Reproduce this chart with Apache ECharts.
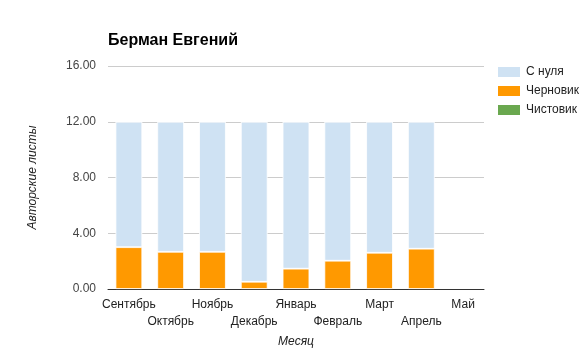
<!DOCTYPE html>
<html lang="ru">
<head>
<meta charset="UTF-8">
<title>Берман Евгений</title>
<script src="https://cdn.jsdelivr.net/npm/echarts@6/dist/echarts.min.js"></script>
<style>
  html, body { margin: 0; padding: 0; background: #fff; }
  #chart { width: 583px; height: 352px; }
</style>
</head>
<body>
<div id="chart"></div>
<script>
  var months = ['Сентябрь', 'Октябрь', 'Ноябрь', 'Декабрь', 'Январь', 'Февраль', 'Март', 'Апрель', 'Май'];
  var fromScratch = [9.0, 9.33, 9.33, 11.48, 10.54, 9.97, 9.4, 9.11, null];
  var draft = [3.0, 2.67, 2.67, 0.52, 1.46, 2.03, 2.6, 2.89, null];
  var clean = [0, 0, 0, 0, 0, 0, 0, 0, null];
  var seriesNames = ['С нуля', 'Черновик', 'Чистовик'];
  var colors = ['#cfe2f3', '#ff9900', '#6aa84f'];

  var font = 'Arial, "Liberation Sans", sans-serif';

  function bar(name, data, color, order) {
    return {
      name: name,
      type: 'bar',
      stack: 'total',
      barWidth: '64%',
      data: data,
      z: order,
      itemStyle: { color: color, borderColor: '#fff', borderWidth: 0.8 }
    };
  }

  var chart = echarts.init(document.getElementById('chart'));
  chart.setOption({
    animation: false,
    textStyle: { fontFamily: font },
    title: {
      text: 'Берман Евгений',
      left: 103,
      top: 28,
      textStyle: { fontSize: 16, fontWeight: 'bold', color: '#000', fontFamily: font }
    },
    legend: {
      orient: 'vertical',
      left: 496,
      top: 65,
      padding: 0,
      itemWidth: 24,
      itemHeight: 12,
      itemGap: 5,
      icon: 'rect',
      data: seriesNames,
      textStyle: { fontSize: 12, color: '#222', fontFamily: font, lineHeight: 14, padding: [0, 0, 0, 0] }
    },
    grid: { left: 108, right: 99, top: 66, bottom: 63, outerBoundsMode: 'none' },
    xAxis: {
      type: 'category',
      data: months,
      name: 'Месяц',
      nameLocation: 'middle',
      nameGap: 47,
      nameTextStyle: { fontStyle: 'italic', color: '#222', fontSize: 12 },
      axisLine: { lineStyle: { color: '#333', width: 1 } },
      axisTick: { show: false },
      axisLabel: {
        interval: 0,
        color: '#222',
        fontSize: 12,
        margin: 7,
        lineHeight: 17,
        formatter: function (v, i) { return i % 2 ? '\n' + v : v; }
      }
    },
    yAxis: {
      type: 'value',
      min: 0,
      max: 16,
      interval: 4,
      name: 'Авторские листы',
      nameLocation: 'middle',
      nameGap: 69,
      nameTextStyle: { fontStyle: 'italic', color: '#222', fontSize: 12 },
      axisLine: { show: false },
      axisTick: { show: false },
      axisLabel: {
        color: '#444',
        fontSize: 12,
        margin: 12,
        formatter: function (v) { return v.toFixed(2); }
      },
      splitLine: { lineStyle: { color: '#ccc' } }
    },
    series: [
      bar(seriesNames[1], draft, colors[1], 3),
      bar(seriesNames[0], fromScratch, colors[0], 2),
      bar(seriesNames[2], clean, colors[2], 1)
    ],
    color: [colors[1], colors[0], colors[2]]
  });
</script>
</body>
</html>
